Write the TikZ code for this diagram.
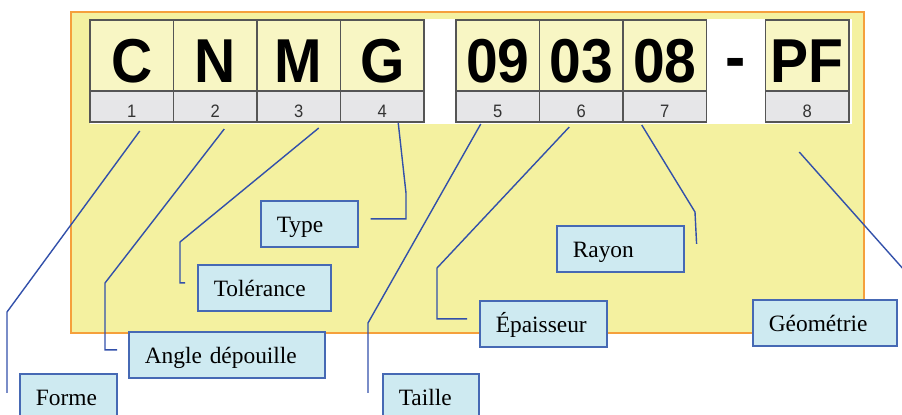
\documentclass[tikz,border=0pt]{standalone}
\usepackage{fontspec}
\setmainfont{Liberation Serif}
\newfontfamily\codefont[FakeStretch=0.92]{Liberation Sans}
\usepackage{tikz}
\usetikzlibrary{positioning, calc}
\definecolor{cPanel}{RGB}{244,241,160}
\definecolor{cFrame}{RGB}{245,160,60}
\definecolor{cCode}{RGB}{248,246,196}
\definecolor{cNum}{RGB}{230,230,232}
\definecolor{cEdge}{RGB}{85,85,85}
\definecolor{cTag}{RGB}{206,234,241}
\definecolor{cTagEdge}{RGB}{70,105,180}
\definecolor{cLead}{RGB}{50,80,170}
\tikzset{
    codebox/.style={rectangle, draw=cEdge, line width=0.8pt, fill=cCode, outer sep=0pt, inner sep=0pt, minimum width=41.75pt, minimum height=35.5pt, text height=26.7pt, text depth=0pt, font=\codefont\bfseries\fontsize{31}{31}\selectfont},
    numbox/.style ={rectangle, draw=cEdge, line width=0.8pt, fill=cNum, outer sep=0pt, inner sep=0pt, minimum width=41.75pt, minimum height=15.5pt, text height=11pt, text depth=0pt, text=black!80, font=\codefont\fontsize{9}{9}\selectfont},
    tagbox/.style ={rectangle, draw=cTagEdge, line width=0.8pt, fill=cTag, anchor=north west, minimum height=23pt, inner xsep=8pt, inner ysep=0pt, text width=#1, text height=10.7pt, text depth=2pt, align=left, font=\fontsize{11.7}{14}\selectfont},
    leader/.style ={draw=cLead, line width=0.7pt},
}
\begin{document}
\begin{tikzpicture}[x=0.5pt, y=-0.5pt]
    \useasboundingbox (0,0) rectangle (902,414);
    \draw[cFrame, fill=cPanel, line width=1pt] (71,12) rectangle (864,333);
    \fill[white] (90,19) rectangle (852,124);
    % code letters
    \node[codebox, anchor=north west] (cC) at (90,20) {C};
    \node[codebox, right=0pt of cC] (cN) {N};
    \node[codebox, right=0pt of cN] (cM) {M};
    \node[codebox, right=0pt of cM] (cG) {G};
    \node[codebox, right=16pt of cG] (c09) {09};
    \node[codebox, right=0pt of c09] (c03) {03};
    \node[codebox, right=0pt of c03] (c08) {08};
    \node[codebox, right=29.5pt of c08] (cPF) {PF};
    \node[anchor=base, font=\codefont\bfseries\fontsize{33}{33}\selectfont] (dash)
        at ($(c08.south east)!0.5!(cPF.south west)+(0,-12)$) {-};
    % position numbers
    \node[numbox, below=0pt of cC] (n1) {1};
    \node[numbox, below=0pt of cN] (n2) {2};
    \node[numbox, below=0pt of cM] (n3) {3};
    \node[numbox, below=0pt of cG] (n4) {4};
    \node[numbox, below=0pt of c09] (n5) {5};
    \node[numbox, below=0pt of c03] (n6) {6};
    \node[numbox, below=0pt of c08] (n7) {7};
    \node[numbox, below=0pt of cPF] (n8) {8};
    % labels
    \node[tagbox=32.5pt] (type) at (260,200) {Type};
    \node[tagbox=50.5pt] (tol) at (197,264) {Tolérance};
    \node[tagbox=82pt] (angle) at (128,331) {Angle dépouille};
    \node[tagbox=32.5pt] (forme) at (19,373) {Forme};
    \node[tagbox=32pt] (taille) at (382,373) {Taille};
    \node[tagbox=47.5pt] (rayon) at (556,225) {Rayon};
    \node[tagbox=47.5pt] (epais) at (479,300) {Épaisseur};
    \node[tagbox=56pt] (geom) at (752,299) {Géométrie};
    % leaders
    \draw[leader] ($(n1.south)+(8,9)$) -- (7,312) -- ($(forme.west)+(-12,-4)$);
    \draw[leader] ($(n2.south)+(9,7)$) -- (105,283) |- ($(angle.west)+(-11,-5)$);
    \draw[leader] ($(n3.south)+(20,6)$) -- (180,242) |- ($(tol.west)+(-12,-5)$);
    \draw[leader] ($(n4.south)+(16,1)$) -- (406,193) |- ($(type.east)+(12,-5)$);
    \draw[leader] ($(n5.south)+(-17,2)$) -- (368,323) -- ($(taille.west)+(-14,-4)$);
    \draw[leader] ($(n6.south)+(-12,5)$) -- (437,268) |- ($(epais.west)+(-12,-5)$);
    \draw[leader] ($(n7.south)+(-23,3)$) -- (695,212) -- ($(rayon.east)+(12,-5)$);
    \coordinate (geomEnd) at (905,271);
    \draw[leader] ($(n8.south)+(-8,30)$) -- (geomEnd);
\end{tikzpicture}
\end{document}
